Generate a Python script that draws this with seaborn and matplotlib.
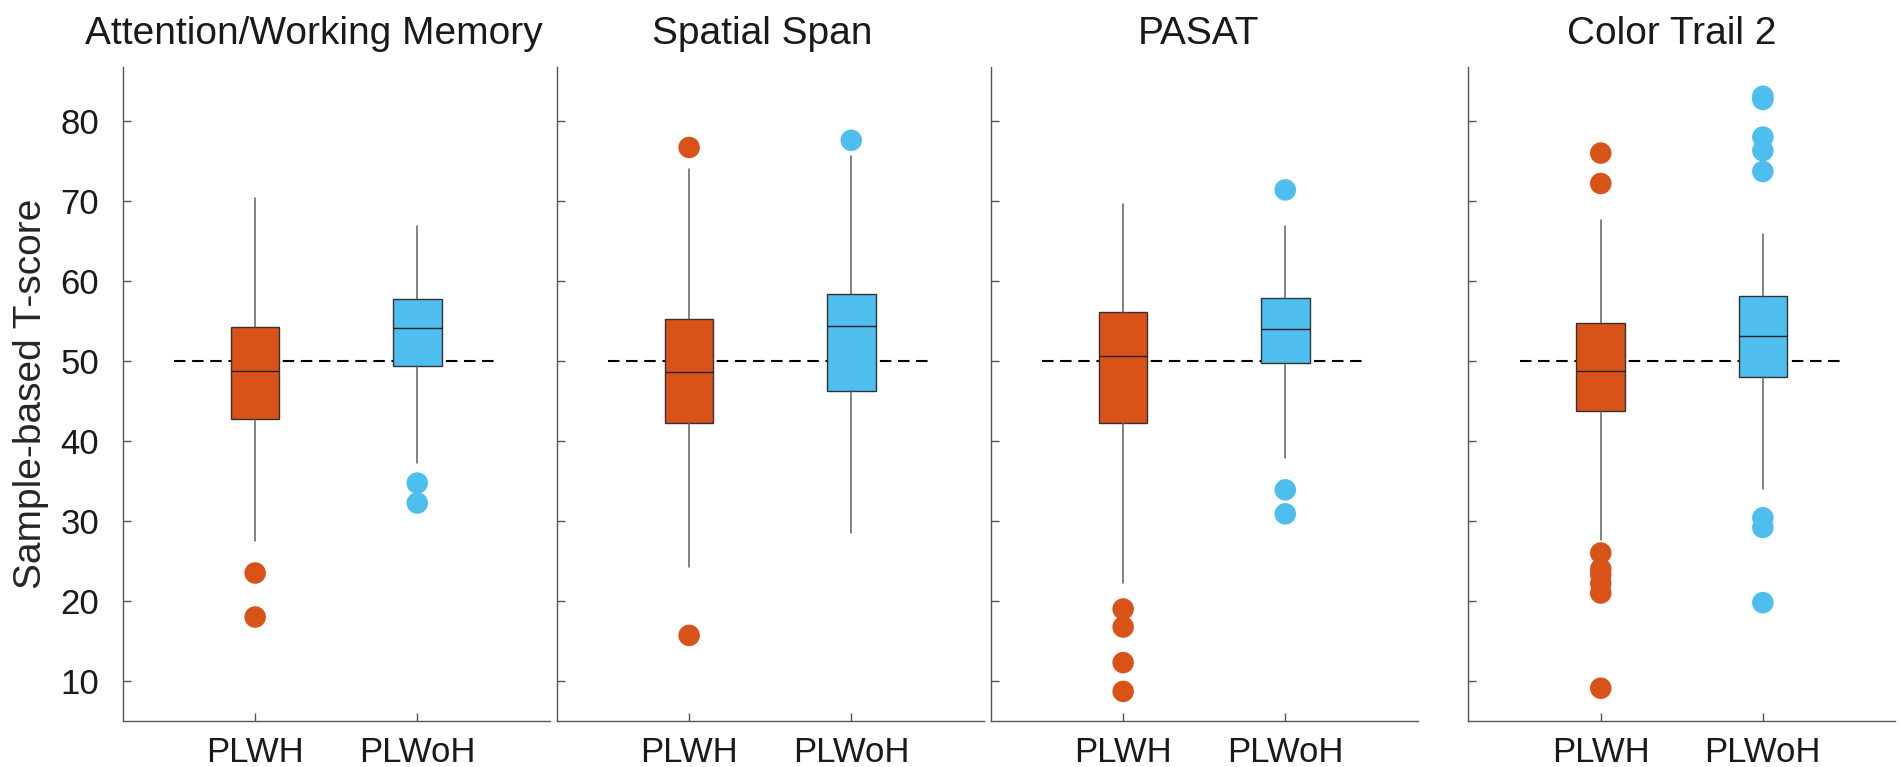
import numpy as np
import pandas as pd
import matplotlib
matplotlib.use('Agg')
import matplotlib.pyplot as plt
import seaborn as sns

# data
tests = ['Attention/Working Memory', 'Spatial Span', 'PASAT', 'Color Trail 2']
groups = ['PLWH', 'PLWoH']

plwh_whislo = [27.5, 24.2, 22.2, 27.6]
plwh_q1 = [42.8, 42.2, 42.2, 43.75]
plwh_med = [48.8, 48.6, 50.6, 48.8]
plwh_q3 = [54.3, 55.3, 56.1, 54.7]
plwh_whishi = [70.4, 74.0, 69.6, 67.6]
plwh_out = [[23.5, 18.0],
            [76.7, 15.7],
            [19.0, 16.75, 12.3, 8.7],
            [76.0, 72.2, 26.0, 24.0, 23.3, 22.2, 21.0, 9.1]]

plwoh_whislo = [37.3, 28.5, 37.9, 34.0]
plwoh_q1 = [49.4, 46.2, 49.8, 48.0]
plwoh_med = [54.1, 54.4, 54.0, 53.1]
plwoh_q3 = [57.7, 58.4, 57.9, 58.1]
plwoh_whishi = [66.9, 75.6, 66.9, 65.9]
plwoh_out = [[34.75, 32.25],
             [77.6],
             [71.4, 33.9, 30.9],
             [83.1, 82.7, 78.0, 76.3, 73.7, 30.4, 29.2, 19.8]]

ref_score = 50

colors = {'PLWH': '#D95319', 'PLWoH': '#4DBEEE'}

sns.set_theme(style='ticks')
plt.rcParams['font.family'] = ['Liberation Sans', 'DejaVu Sans']
plt.rcParams['text.color'] = '#1a1a1a'

W, H = 1902, 767
fig = plt.figure(figsize=(W / 100, H / 100), dpi=100)

# axes layout in pixels
lefts = [122.7, 556.7, 990.7, 1468.3]
title_shift = [-22, -8, -6, -10]
ax_w = 427
ax_bottom = 46
ax_h = 654.3

positions = [1, 2]

for i, test in enumerate(tests):
    ax = fig.add_axes([lefts[i] / W, ax_bottom / H, ax_w / W, ax_h / H])

    stats = [
        dict(whislo=plwh_whislo[i], q1=plwh_q1[i], med=plwh_med[i],
             q3=plwh_q3[i], whishi=plwh_whishi[i], fliers=[]),
        dict(whislo=plwoh_whislo[i], q1=plwoh_q1[i], med=plwoh_med[i],
             q3=plwoh_q3[i], whishi=plwoh_whishi[i], fliers=[]),
    ]

    # reference line at T = 50, behind the boxes
    ax.hlines(ref_score, positions[0] - 0.5, positions[-1] + 0.5,
              colors='black', linestyles=(0, (5.5, 3.2)), lw=1.5, zorder=1)

    bp = ax.bxp(stats, positions=positions, widths=0.3, patch_artist=True,
                showfliers=False, showcaps=False,
                boxprops=dict(edgecolor='#333333', linewidth=1.0),
                medianprops=dict(color='#222222', linewidth=1.0),
                whiskerprops=dict(color='#606060', linewidth=1.1),
                zorder=2)
    for patch, g in zip(bp['boxes'], groups):
        patch.set_facecolor(colors[g])

    # outliers
    out_df = pd.DataFrame({
        'x': [positions[0]] * len(plwh_out[i]) + [positions[1]] * len(plwoh_out[i]),
        'score': plwh_out[i] + plwoh_out[i],
        'group': ['PLWH'] * len(plwh_out[i]) + ['PLWoH'] * len(plwoh_out[i]),
    })
    sns.scatterplot(data=out_df, x='x', y='score', hue='group', palette=colors,
                    s=240, linewidth=0, legend=False, ax=ax, zorder=3)

    ax.set_xlim(0.183, 2.817)
    ax.set_ylim(5, 86.8)
    ax.set_xticks(positions)
    ax.set_xticklabels(groups)
    ax.set_yticks(np.arange(10, 81, 10))
    ax.set_xlabel('')
    ax.set_ylabel('')
    ax.tick_params(axis='both', direction='in', length=6, width=1,
                   color='#555555', labelsize=25, labelcolor='#1a1a1a')
    ax.tick_params(axis='x', pad=11)
    ax.tick_params(axis='y', pad=17)
    if i > 0:
        ax.set_yticklabels([])
    else:
        ax.set_ylabel('Sample-based T-score', fontsize=28, labelpad=8)

    for side in ['left', 'bottom']:
        ax.spines[side].set_color('#555555')
        ax.spines[side].set_linewidth(1.0)
    sns.despine(ax=ax)
    ax.set_title(test, fontsize=28, pad=16, x=0.5 + title_shift[i] / ax_w)

fig.savefig('out.png', dpi=100)
